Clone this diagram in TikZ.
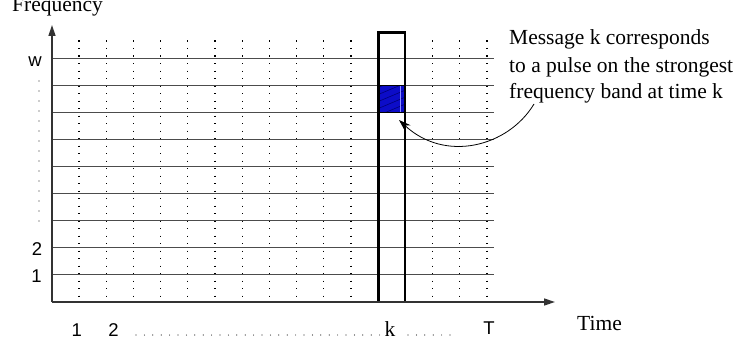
\documentclass[tikz,border=0pt]{standalone}
\usepackage{fontspec}
\setmainfont{Liberation Serif}
\newfontfamily\hv{Liberation Sans}
\usetikzlibrary{arrows.meta}
\definecolor{cellblue}{RGB}{12,12,200}
\definecolor{hatchblue}{RGB}{0,0,120}
\begin{document}
\begin{tikzpicture}[x=1pt,y=-1pt,
  gridline/.style={draw=black!70, line width=1pt},
  axisline/.style={draw=black!80, line width=1.4pt, -{Triangle[length=11pt,width=7pt]}},
  dotcol/.style={draw=black, line width=1.1pt, dash pattern=on 1.1pt off 6.4pt},
  boxline/.style={draw=black, line width=2.6pt},
  serif/.style={font=\fontsize{21.5}{26.5}\selectfont, inner sep=0pt},
  sans/.style={font=\hv\fontsize{18.5}{20}\selectfont, inner sep=0pt},
  pt/.style={fill=black!85, inner sep=0pt, minimum size=1.2pt, circle}
]
\useasboundingbox (0,0) rectangle (751,345);
% dotted columns
\foreach \i in {0,...,15} {
  \draw[dotcol] (79+27.2*\i,40.5) -- (79+27.2*\i,297);
}
% horizontal lines
\foreach \k in {1,...,9} {
  \draw[gridline] (52,302-27.1*\k) -- (494,302-27.1*\k);
}
% highlighted cell
\node[fill=cellblue, inner sep=0pt, minimum width=27.5pt, minimum height=27.1pt] (cell) at (391.75,98.75) {};
\begin{scope}
  \clip (378,85.2) rectangle (405.5,112.3);
  \foreach \d in {84,91,...,140} {
    \draw[hatchblue, line width=0.6pt] (370,\d) -- (415,\d-19);
  }
  \draw[blue!45, line width=0.6pt] (400.7,85.2) -- (400.7,112.3);
\end{scope}
\draw[black, line width=1pt] (378,85.2) -- (405.5,85.2) (378,112.3) -- (405.5,112.3);
% column box
\coordinate (colNW) at (378.5,32.5);
\coordinate (colSE) at (405,302);
\draw[boxline] (colNW) rectangle (colSE);
% axes
\coordinate (O) at (52,302);
\coordinate (ytip) at (52,25);
\coordinate (xtip) at (555,302);
\draw[axisline] (O) -- (ytip);
\draw[axisline] (O) -- (xtip);
% axis labels
\node[serif, anchor=base west] (freq) at (12,12) {Frequency};
\node[serif, anchor=base west] (time) at (577,330) {Time};
% y tick labels
\node[sans, anchor=base] (yw) at (35,66.5) {w};
\node[sans, anchor=base] (y2) at (37,255) {2};
\node[sans, anchor=base] (y1) at (36.4,282) {1};
\foreach \i in {0,...,14} {
  \node[pt] (ld\i) at (39,81+10*\i) {};
}
% x tick labels
\node[sans, anchor=base] (x1) at (76.7,336) {1};
\node[sans, anchor=base] (x2) at (113.5,336) {2};
\node[serif, anchor=base] (xk) at (390,336) {k};
\node[sans, anchor=base] (xT) at (489,334.5) {T};
\foreach \i in {0,...,29} {
  \node[pt] (bd\i) at (136+8.4*\i,335) {};
}
\foreach \i in {0,...,5} {
  \node[pt] (ad\i) at (408+8.4*\i,335) {};
}
% annotation
\node[serif, anchor=base west] (ann1) at (509,45) {Message k corresponds};
\node[serif, anchor=base west] (ann2) at (509,72) {to a pulse on the strongest};
\node[serif, anchor=base west] (ann3) at (509,98) {frequency band at time k};
\coordinate (annfrom) at (534,104);
\coordinate (celltip) at (399,120);
\draw[black, line width=0.8pt, -{Stealth[length=12pt,width=8pt]}] (annfrom) .. controls (508,147) and (445,163) .. (celltip);
\end{tikzpicture}
\end{document}
